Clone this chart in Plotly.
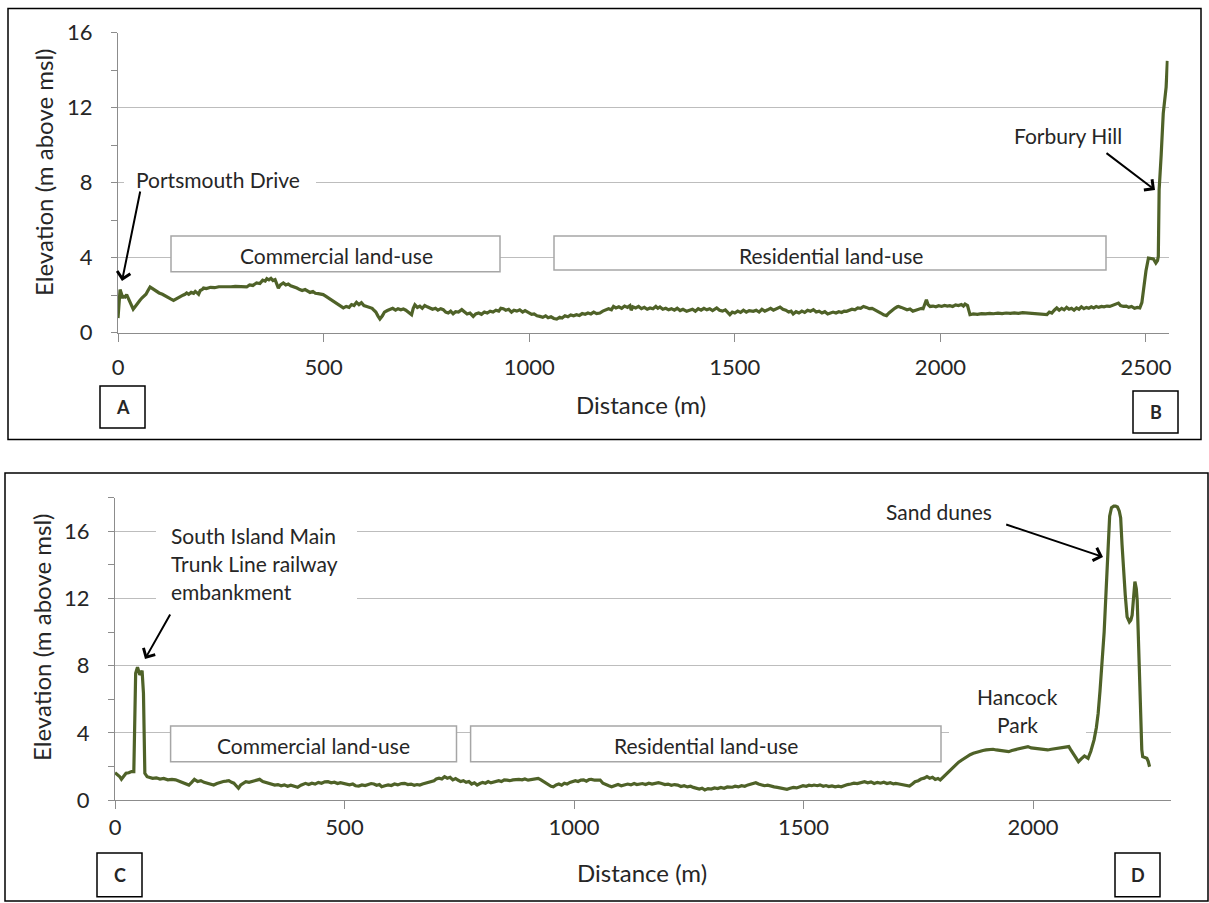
import plotly.graph_objects as go

W, H = 1209, 903

# ---------------- Data: top profile (A -> B) ----------------
dist_ab = [0, 3, 5, 8, 11, 13, 17, 21, 26, 31, 37, 42, 48, 53, 58, 63, 68, 73, 78, 84, 90, 94, 100, 108, 115, 122, 128, 135, 142, 150,
           158, 163, 167, 172, 178, 184, 188, 191, 196, 200, 205, 208, 215, 225, 235, 245, 255, 264, 275, 285, 295, 305, 313, 320, 328,
           337, 345, 352, 358, 362, 367, 372, 377, 382, 386, 390, 395, 402, 408, 414, 420, 428, 435, 442, 448, 455, 462, 467, 474, 480,
           487, 494, 499, 505, 512, 520, 528, 535, 541, 548, 555, 562, 568, 574, 580, 586, 592, 598, 605, 612, 618, 621, 627, 632, 637,
           643, 648, 655, 661, 668, 675, 681, 688, 694, 700, 707, 711, 714, 718, 722, 728, 734, 740, 746, 752, 759, 765, 772, 778, 785,
           791, 797, 803, 809, 815, 821, 828, 836, 842, 849, 856, 864, 870, 877, 884, 891, 898, 905, 912, 919, 926, 931, 937, 943, 950,
           957, 963, 970, 977, 984, 990, 994, 1000, 1006, 1012, 1019, 1026, 1033, 1040, 1046, 1053, 1060, 1067, 1074, 1080, 1087, 1094,
           1101, 1108, 1115, 1122, 1129, 1136, 1143, 1150, 1157, 1164, 1172, 1179, 1186, 1193, 1200, 1205, 1211, 1218, 1225, 1232, 1239,
           1245, 1248, 1252, 1259, 1266, 1273, 1280, 1287, 1294, 1301, 1308, 1313, 1318, 1325, 1332, 1339, 1346, 1353, 1360, 1367, 1374,
           1383, 1390, 1397, 1404, 1411, 1418, 1425, 1432, 1439, 1446, 1456, 1463, 1470, 1477, 1483, 1488, 1494, 1500, 1507, 1514, 1521,
           1528, 1535, 1545, 1552, 1559, 1566, 1573, 1580, 1587, 1594, 1601, 1610, 1617, 1624, 1631, 1637, 1642, 1649, 1656, 1663, 1670,
           1677, 1684, 1691, 1698, 1705, 1712, 1719, 1726, 1732, 1739, 1746, 1753, 1760, 1766, 1772, 1778, 1785, 1792, 1799, 1806, 1813,
           1820, 1827, 1834, 1841, 1848, 1855, 1862, 1869, 1875, 1882, 1889, 1895, 1898, 1905, 1912, 1919, 1926, 1933, 1940, 1947, 1954,
           1958, 1962, 1966, 1970, 1975, 1982, 1989, 1996, 2003, 2010, 2017, 2023, 2030, 2037, 2044, 2051, 2056, 2060, 2066, 2069, 2072,
           2080, 2090, 2100, 2110, 2120, 2129, 2140, 2150, 2160, 2170, 2180, 2190, 2200, 2210, 2220, 2230, 2240, 2250, 2259, 2265, 2271,
           2277, 2283, 2289, 2295, 2301, 2307, 2313, 2319, 2325, 2331, 2337, 2343, 2349, 2355, 2361, 2367, 2373, 2379, 2385, 2392, 2398,
           2405, 2412, 2419, 2426, 2433, 2438, 2445, 2452, 2458, 2465, 2472, 2479, 2485, 2490, 2495, 2500, 2506, 2512, 2518, 2524, 2528,
           2530, 2531, 2532, 2537, 2542, 2546, 2549, 2552]
elev_ab = [0.78, 1.6, 2.3, 2.1, 1.85, 1.94, 1.9, 2.03, 1.8, 1.5, 1.26, 1.4, 1.6, 1.72, 1.85, 1.95, 2.05, 2.25, 2.44, 2.35, 2.25, 2.2, 2.12,
           2.05, 1.95, 1.85, 1.8, 1.72, 1.82, 1.9, 2.0, 2.05, 2.12, 2.05, 2.15, 2.1, 2.2, 2.15, 2.05, 2.25, 2.3, 2.38, 2.35, 2.42, 2.4,
           2.45, 2.44, 2.47, 2.45, 2.47, 2.45, 2.42, 2.44, 2.55, 2.52, 2.65, 2.62, 2.8, 2.75, 2.88, 2.82, 2.9, 2.78, 2.83, 2.6, 2.38, 2.55,
           2.65, 2.55, 2.6, 2.5, 2.45, 2.38, 2.3, 2.25, 2.3, 2.2, 2.15, 2.2, 2.1, 2.08, 2.05, 2.03, 1.95, 1.85, 1.7, 1.6, 1.5, 1.4, 1.32,
           1.4, 1.35, 1.5, 1.45, 1.62, 1.5, 1.6, 1.45, 1.4, 1.35, 1.3, 1.23, 1.1, 0.9, 0.73, 0.9, 1.1, 1.18, 1.23, 1.3, 1.2, 1.28, 1.22,
           1.26, 1.2, 1.1, 1.05, 0.96, 1.3, 1.49, 1.35, 1.42, 1.3, 1.45, 1.38, 1.32, 1.25, 1.3, 1.2, 1.28, 1.23, 1.1, 1.05, 1.15, 1.01,
           1.12, 1.1, 1.23, 1.1, 1.0, 1.05, 0.87, 1.0, 1.05, 0.98, 1.1, 1.05, 1.15, 1.1, 1.2, 1.15, 1.3, 1.28, 1.2, 1.25, 1.1, 1.2, 1.15,
           1.22, 1.1, 1.18, 1.14, 1.05, 0.98, 1.0, 0.9, 0.87, 0.82, 0.9, 0.8, 0.85, 0.76, 0.73, 0.82, 0.78, 0.9, 0.85, 0.95, 0.9, 0.96,
           0.92, 1.02, 0.98, 1.05, 1.0, 1.1, 1.02, 1.05, 1.15, 1.2, 1.28, 1.22, 1.4, 1.32, 1.38, 1.3, 1.42, 1.35, 1.44, 1.2, 1.38, 1.32,
           1.4, 1.28, 1.35, 1.25, 1.32, 1.28, 1.4, 1.3, 1.37, 1.25, 1.3, 1.22, 1.28, 1.2, 1.3, 1.18, 1.25, 1.14, 1.2, 1.25, 1.15, 1.28,
           1.2, 1.3, 1.22, 1.28, 1.18, 1.32, 1.2, 1.15, 1.22, 1.1, 0.96, 1.1, 1.05, 1.15, 1.08, 1.2, 1.1, 1.18, 1.14, 1.2, 1.1, 1.25,
           1.15, 1.22, 1.3, 1.2, 1.28, 1.37, 1.25, 1.2, 1.1, 1.15, 1.0, 1.12, 1.05, 1.15, 1.08, 1.2, 1.14, 1.23, 1.1, 1.15, 1.05, 1.12,
           1.0, 1.05, 1.1, 1.05, 1.12, 1.08, 1.15, 1.14, 1.2, 1.25, 1.22, 1.32, 1.3, 1.4, 1.35, 1.28, 1.3, 1.23, 1.15, 1.05, 0.95, 0.91,
           1.05, 1.2, 1.3, 1.38, 1.4, 1.35, 1.3, 1.22, 1.26, 1.15, 1.2, 1.25, 1.3, 1.28, 1.55, 1.76, 1.5, 1.4, 1.42, 1.38, 1.44, 1.4,
           1.45, 1.42, 1.44, 1.4, 1.48, 1.45, 1.5, 1.42, 1.53, 1.45, 1.2, 0.96, 1.0, 0.98, 1.02, 1.0, 1.03, 1.01, 1.04, 1.02, 1.05, 1.03,
           1.06, 1.03, 1.07, 1.05, 1.02, 1.04, 1.0, 0.98, 0.96, 1.1, 1.05, 1.2, 1.32, 1.2, 1.3, 1.22, 1.35, 1.25, 1.3, 1.2, 1.32, 1.25,
           1.38, 1.28, 1.35, 1.3, 1.38, 1.32, 1.4, 1.35, 1.4, 1.38, 1.42, 1.4, 1.45, 1.5, 1.58, 1.45, 1.4, 1.42, 1.35, 1.4, 1.3, 1.35,
           1.32, 1.6, 2.5, 3.3, 3.98, 3.95, 3.93, 3.72, 3.85, 4.07, 5.5, 7.63, 9.5, 11.7, 12.5, 13.1, 14.5]

# ---------------- Data: bottom profile (C -> D) ----------------
dist_cd = [0, 5, 10, 14, 19, 24, 30, 36, 41, 43, 45, 49, 52, 54, 57, 59, 62, 64, 65, 70, 76, 82, 90, 98, 106, 115, 124, 132, 140, 148,
           155, 161, 167, 173, 180, 187, 194, 201, 208, 215, 222, 229, 236, 242, 248, 254, 259, 264, 269, 274, 279, 285, 292, 299, 306,
           315, 322, 329, 336, 342, 348, 355, 362, 369, 376, 383, 390, 398, 405, 410, 415, 422, 429, 436, 443, 450, 457, 464, 471, 478,
           485, 491, 498, 505, 511, 518, 524, 531, 538, 545, 552, 558, 564, 570, 576, 581, 588, 595, 602, 609, 616, 624, 631, 638, 645,
           652, 658, 664, 670, 677, 683, 689, 695, 700, 706, 712, 718, 724, 730, 736, 742, 747, 753, 759, 765, 771, 777, 783, 789, 795,
           801, 807, 813, 819, 825, 830, 836, 842, 848, 854, 860, 867, 874, 880, 887, 893, 900, 907, 914, 922, 928, 934, 940, 946, 950,
           955, 961, 967, 973, 979, 985, 991, 997, 1003, 1009, 1015, 1021, 1027, 1033, 1038, 1045, 1051, 1057, 1063, 1070, 1076, 1082,
           1089, 1096, 1103, 1110, 1117, 1124, 1131, 1137, 1142, 1149, 1156, 1163, 1170, 1177, 1184, 1191, 1198, 1205, 1212, 1219, 1226,
           1233, 1240, 1247, 1254, 1260, 1267, 1273, 1279, 1285, 1292, 1299, 1306, 1313, 1320, 1327, 1334, 1340, 1345, 1351, 1358, 1365,
           1372, 1379, 1386, 1392, 1396, 1402, 1409, 1415, 1422, 1429, 1436, 1443, 1450, 1457, 1464, 1471, 1478, 1485, 1492, 1499, 1506,
           1512, 1518, 1523, 1530, 1536, 1543, 1549, 1555, 1562, 1569, 1576, 1582, 1589, 1596, 1603, 1610, 1617, 1624, 1633, 1640, 1647,
           1654, 1661, 1668, 1675, 1682, 1689, 1696, 1701, 1708, 1715, 1722, 1727, 1731, 1737, 1743, 1750, 1756, 1763, 1769, 1775, 1781,
           1787, 1793, 1798, 1804, 1810, 1815, 1820, 1826, 1832, 1838, 1845, 1851, 1857, 1863, 1870, 1877, 1884, 1891, 1898, 1905, 1913,
           1920, 1927, 1934, 1940, 1947, 1954, 1961, 1968, 1975, 1982, 1989, 1996, 2003, 2010, 2018, 2025, 2032, 2040, 2048, 2056, 2063,
           2070, 2078, 2082, 2087, 2093, 2099, 2105, 2112, 2116, 2120, 2126, 2133, 2138, 2142, 2146, 2150, 2155, 2159, 2163, 2167, 2171,
           2176, 2180, 2184, 2188, 2191, 2194, 2197, 2201, 2205, 2208, 2210, 2213, 2216, 2219, 2222, 2225, 2227, 2229, 2231, 2233, 2235,
           2237, 2239, 2244, 2248, 2251, 2254]
elev_cd = [1.63, 1.5, 1.4, 1.23, 1.45, 1.59, 1.62, 1.69, 1.69, 4.0, 7.55, 7.9, 7.7, 7.45, 7.6, 7.7, 6.36, 3.5, 1.59, 1.39, 1.35, 1.29,
           1.32, 1.25, 1.28, 1.2, 1.23, 1.2, 1.12, 1.05, 0.98, 0.89, 1.05, 1.23, 1.1, 1.15, 1.05, 1.0, 0.95, 0.89, 0.98, 1.05, 1.1, 1.12,
           1.15, 1.05, 1.0, 0.85, 0.7, 0.9, 1.0, 1.09, 1.05, 1.12, 1.18, 1.23, 1.1, 1.05, 0.98, 0.95, 0.89, 0.92, 0.85, 0.9, 0.82, 0.88,
           0.8, 0.76, 0.88, 0.95, 0.99, 0.92, 1.0, 0.95, 1.05, 1.0, 1.08, 1.09, 1.02, 1.06, 0.98, 1.03, 0.99, 0.95, 0.9, 0.95, 0.85, 0.83,
           0.9, 0.86, 0.92, 0.98, 0.95, 0.88, 0.92, 0.79, 0.85, 0.9, 0.86, 0.95, 0.9, 0.98, 0.99, 0.92, 0.95, 0.88, 0.92, 0.89, 0.95, 1.0,
           1.05, 1.09, 1.15, 1.25, 1.3, 1.25, 1.39, 1.3, 1.35, 1.2, 1.28, 1.19, 1.1, 1.15, 1.05, 1.1, 0.95, 1.02, 0.89, 0.98, 1.05, 1.0,
           1.1, 1.02, 1.08, 1.09, 1.15, 1.1, 1.2, 1.18, 1.15, 1.2, 1.23, 1.23, 1.2, 1.25, 1.18, 1.22, 1.25, 1.29, 1.2, 1.1, 0.95, 0.88,
           0.82, 0.79, 0.9, 0.95, 0.88, 1.0, 0.95, 1.05, 1.09, 1.15, 1.1, 1.18, 1.2, 1.12, 1.22, 1.23, 1.18, 1.2, 1.19, 1.0, 0.9, 0.85,
           0.79, 0.88, 0.92, 0.85, 0.9, 0.95, 0.9, 0.98, 0.92, 0.95, 0.98, 0.92, 1.0, 0.95, 1.0, 1.03, 0.98, 0.92, 0.95, 0.88, 0.92, 0.89,
           0.8, 0.85, 0.78, 0.82, 0.75, 0.7, 0.65, 0.7, 0.6, 0.68, 0.65, 0.72, 0.68, 0.75, 0.7, 0.78, 0.76, 0.76, 0.82, 0.78, 0.85, 0.82,
           0.9, 0.95, 1.0, 1.03, 0.95, 0.9, 0.85, 0.88, 0.82, 0.78, 0.75, 0.7, 0.68, 0.64, 0.7, 0.75, 0.72, 0.8, 0.85, 0.82, 0.88, 0.85,
           0.89, 0.85, 0.9, 0.82, 0.86, 0.8, 0.84, 0.78, 0.82, 0.79, 0.88, 0.92, 0.95, 1.0, 0.98, 1.05, 1.09, 1.02, 1.08, 0.98, 1.05, 1.0,
           1.06, 0.98, 1.03, 0.96, 0.99, 0.95, 0.92, 0.88, 0.85, 0.83, 0.95, 1.09, 1.15, 1.25, 1.3, 1.39, 1.3, 1.35, 1.22, 1.28, 1.19,
           1.35, 1.5, 1.6, 1.79, 1.9, 2.1, 2.25, 2.38, 2.5, 2.62, 2.7, 2.78, 2.85, 2.9, 2.95, 2.98, 3.0, 3.02, 2.98, 2.95, 2.92, 2.9, 2.88,
           2.95, 3.0, 3.05, 3.1, 3.12, 3.18, 3.1, 3.08, 3.05, 3.02, 3.0, 2.98, 3.02, 3.05, 3.08, 3.1, 3.12, 3.18, 3.0, 2.78, 2.5, 2.28,
           2.45, 2.62, 2.55, 2.48, 2.9, 3.58, 4.3, 5.17, 6.5, 7.94, 10.0, 12.3, 14.8, 16.9, 17.4, 17.5, 17.5, 17.45, 17.2, 16.8, 15.2,
           13.7, 12.2, 10.9, 10.7, 10.6, 10.7, 11.0, 12.0, 13.0, 12.6, 11.9, 10.2, 8.34, 6.0, 3.97, 3.0, 2.58, 2.55, 2.48, 2.3, 1.98]

x_ticks = [0, 500, 1000, 1500, 2000, 2500]
y_ticks = [0, 4, 8, 12, 16]

LINE = "#4F6228"
GRID = "#BDBDBD"
AXIS = "#8C8C8C"
TXT = "#262626"
FONT = "Lato"


def px(x):
    return x / W


def py(y):
    return 1 - y / H


fig = go.Figure()
fig.add_trace(go.Scatter(x=dist_ab, y=elev_ab, mode="lines", line=dict(color=LINE, width=3.2),
                         xaxis="x", yaxis="y", showlegend=False))
fig.add_trace(go.Scatter(x=dist_cd, y=elev_cd, mode="lines", line=dict(color=LINE, width=3.2),
                         xaxis="x2", yaxis="y2", showlegend=False))

tickfont = dict(family=FONT, size=22, color=TXT)


def xax(domain, rng, standoff, anchor):
    return dict(domain=domain, range=rng, tickvals=[t for t in x_ticks if t <= rng[1]], showgrid=False,
                zeroline=False, showline=True, linecolor=AXIS, linewidth=1, ticks="outside", ticklen=8,
                tickcolor=AXIS, tickfont=tickfont, ticklabelstandoff=standoff, anchor=anchor, fixedrange=True,
                automargin=False)


def yax(domain, rng, anchor):
    return dict(domain=domain, range=rng, tickvals=y_ticks, showgrid=True, gridcolor=GRID, gridwidth=1,
                zeroline=False, showline=True, linecolor=AXIS, linewidth=1, ticks="outside", ticklen=6,
                tickcolor=AXIS, tickfont=tickfont, ticklabelstandoff=14, anchor=anchor,
                minor=dict(tick0=0, dtick=2, ticks="outside", ticklen=6, tickcolor=AXIS, showgrid=False),
                fixedrange=True, automargin=False)


fig.update_layout(
    template="none",
    width=W, height=H, margin=dict(l=0, r=0, t=0, b=0, pad=0, autoexpand=False),
    paper_bgcolor="white", plot_bgcolor="white",
    xaxis=xax([px(118), px(1168.6)], [0, 2555], 7, "y"),
    yaxis=yax([py(332.7), py(32.7)], [0, 16], "x"),
    xaxis2=xax([px(115), px(1170.7)], [0, 2300], 0, "y2"),
    yaxis2=yax([py(800), py(497.7)], [0, 18], "x2"),
)

shapes = []
annotations = []


def rect(x0, y0, x1, y1, color="#A6A6A6", width=1.5, fill="white"):
    shapes.append(dict(type="rect", xref="paper", yref="paper", x0=px(x0), x1=px(x1), y0=py(y1), y1=py(y0),
                       line=dict(color=color, width=width), fillcolor=fill, layer="above"))


def text(x, y, s, size=21, xanchor="center", bold=False, angle=0):
    annotations.append(dict(xref="paper", yref="paper", x=px(x), y=py(y), text=("<b>%s</b>" % s) if bold else s,
                            showarrow=False, xanchor=xanchor, yanchor="middle", textangle=angle,
                            font=dict(family=FONT, size=size, color=TXT)))


def arrow(hx, hy, tx, ty):
    annotations.append(dict(xref="paper", yref="paper", x=px(hx), y=py(hy), ax=tx - hx, ay=ty - hy,
                            text="", showarrow=True, arrowhead=4, arrowsize=1.3, arrowwidth=2,
                            arrowcolor="black", standoff=0, startstandoff=0))


# outer frames
rect(8, 8.5, 1201, 439.5, color="black", width=1.5, fill="rgba(0,0,0,0)")
rect(5, 473, 1208, 901, color="black", width=1.5, fill="rgba(0,0,0,0)")

# ---- top panel annotations ----
rect(124, 168, 316, 192, color="white", width=0)
text(218, 179, "Portsmouth Drive")
arrow(122, 281, 140.5, 190)
rect(171, 236, 500, 271.7)
text(336, 256, "Commercial land-use")
rect(554, 236, 1106, 270)
text(831, 256, "Residential land-use")
text(1068, 136, "Forbury Hill")
arrow(1155, 190, 1105, 152)
rect(100, 386, 145, 428, color="black", width=1.5)
text(122.5, 407, "A", size=18, bold=True)
rect(1133, 391, 1178, 433, color="black", width=1.5)
text(1155.5, 412, "B", size=18, bold=True)
text(44, 173, "Elevation (m above msl)", size=24, angle=-90)
text(641, 405, "Distance (m)", size=24)

# ---- bottom panel annotations ----
rect(156, 518, 357, 606, color="white", width=0)
text(169, 535, "South Island Main", xanchor="left")
text(169, 563, "Trunk Line railway", xanchor="left")
text(169, 591, "embankment", xanchor="left")
arrow(145, 659, 171, 613)
rect(170.6, 726, 456.5, 761.7)
text(313, 745, "Commercial land-use")
rect(470.6, 726, 941, 761.7)
text(705.5, 745, "Residential land-use")
rect(949, 682, 1086, 741, color="white", width=0)
text(1018, 696, "Hancock")
text(1018, 724, "Park")
text(939, 511, "Sand dunes")
arrow(1103, 557, 1004.7, 524)
rect(97, 853, 142, 896.7, color="black", width=1.5)
text(119.5, 875, "C", size=18, bold=True)
rect(1115, 853, 1160, 896.7, color="black", width=1.5)
text(1137.5, 875, "D", size=18, bold=True)
text(41, 638, "Elevation (m above msl)", size=24, angle=-90)
text(642, 872, "Distance (m)", size=24)

fig.update_layout(shapes=shapes, annotations=annotations)
fig.write_html("out.html", config={"displayModeBar": False, "staticPlot": True},
               post_script="document.body.style.margin='0px';document.body.style.overflow='hidden';")
